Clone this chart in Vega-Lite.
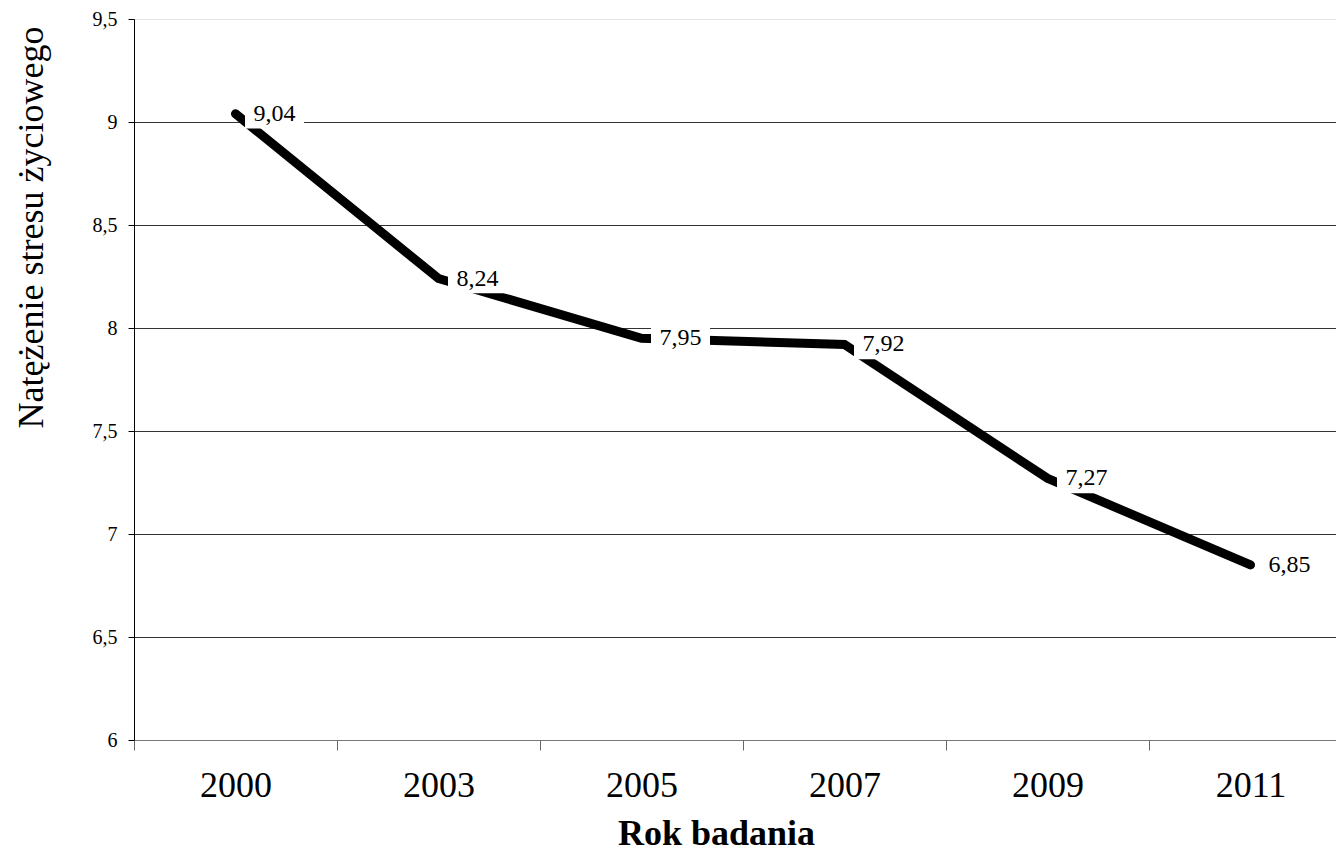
{
  "$schema": "https://vega.github.io/schema/vega-lite/v6.json",
  "width": 1202,
  "height": 721,
  "autosize": {"type": "none"},
  "padding": {"left": 134, "top": 19, "right": 0, "bottom": 109},
  "background": "white",
  "config": {
    "locale": {"number": {"decimal": ",", "thousands": " ", "grouping": [3], "currency": ["", " zł"]}},
    "view": {"stroke": null},
    "font": "Liberation Serif"
  },
  "data": {
    "values": [
      {"year": "2000", "value": 9.04},
      {"year": "2003", "value": 8.24},
      {"year": "2005", "value": 7.95},
      {"year": "2007", "value": 7.92},
      {"year": "2009", "value": 7.27},
      {"year": "2011", "value": 6.85}
    ]
  },
  "encoding": {
    "x": {
      "field": "year",
      "type": "ordinal",
      "scale": {"type": "band", "range": [0, 1218], "paddingInner": 0, "paddingOuter": 0},
      "axis": {
        "title": "Rok badania",
        "tickBand": "extent",
        "labelAngle": 0,
        "labelFont": "Liberation Serif",
        "labelFontSize": 36,
        "labelColor": "black",
        "labelPadding": 18,
        "tickSize": 10,
        "tickColor": "#666",
        "domainColor": "#777",
        "grid": false,
        "titleFont": "Liberation Serif",
        "titleFontSize": 36,
        "titleFontWeight": "bold",
        "titleColor": "black",
        "titleX": 582,
        "titleY": 104,
        "titleBaseline": "alphabetic",
        "titleAlign": "center"
      }
    },
    "y": {
      "field": "value",
      "type": "quantitative",
      "scale": {"domain": [6, 9.5], "nice": false, "zero": false},
      "axis": {
        "values": [6, 6.5, 7, 7.5, 8, 8.5, 9, 9.5],
        "format": "~g",
        "labelFont": "Liberation Serif",
        "labelFontSize": 20,
        "labelColor": "black",
        "labelPadding": 11,
        "tickSize": 6,
        "tickColor": "black",
        "domainColor": "black",
        "grid": true,
        "gridColor": {"condition": {"test": "datum.value === 9.5", "value": "#e4e4e4"}, "value": "#333"},
        "gridWidth": 1,
        "title": "Natężenie stresu życiowego",
        "titleFont": "Liberation Serif",
        "titleFontSize": 36,
        "titleFontWeight": "normal",
        "titleColor": "black",
        "titleAngle": -90,
        "titleX": -92,
        "titleY": 208,
        "titleBaseline": "alphabetic",
        "titleAlign": "center"
      }
    }
  },
  "layer": [
    {"mark": {"type": "line", "color": "black", "strokeWidth": 9, "strokeCap": "round", "strokeJoin": "miter"}},
    {"mark": {"type": "point", "shape": "M-1,-0.5H1V0.5H-1Z", "filled": true, "color": "white", "opacity": 1, "size": 3481, "xOffset": 39, "strokeWidth": 0}},
    {"mark": {"type": "text", "align": "center", "baseline": "middle", "dx": 39, "fontSize": 24, "font": "Liberation Serif", "color": "black"},
     "encoding": {"text": {"field": "value", "type": "quantitative", "format": ".2f"}}}
  ]
}
